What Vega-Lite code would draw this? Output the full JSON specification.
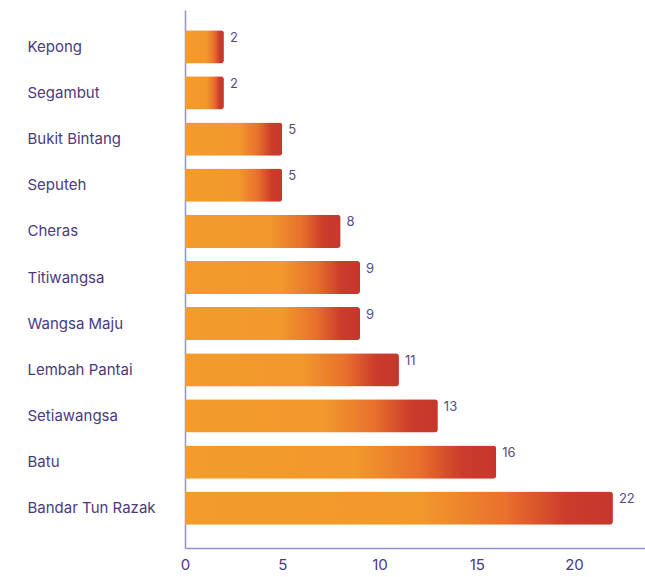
{
  "$schema": "https://vega.github.io/schema/vega-lite/v6.json",
  "autosize": {"type": "none"},
  "padding": {"left": 185, "top": 10, "right": 0, "bottom": 29},
  "width": 460,
  "height": 538,
  "background": "white",
  "config": {
    "view": {"stroke": null},
    "font": "Inter",
    "axis": {"domainColor": "#8f93d0", "domainWidth": 1.5, "grid": false, "ticks": false, "tickSize": 0, "labelColor": "#4b3a7f", "labelFont": "Inter", "labelFontSize": 15, "labelFontWeight": 400, "title": null}
  },
  "data": {
    "values": [
      {"area": "Kepong", "count": 2},
      {"area": "Segambut", "count": 2},
      {"area": "Bukit Bintang", "count": 5},
      {"area": "Seputeh", "count": 5},
      {"area": "Cheras", "count": 8},
      {"area": "Titiwangsa", "count": 9},
      {"area": "Wangsa Maju", "count": 9},
      {"area": "Lembah Pantai", "count": 11},
      {"area": "Setiawangsa", "count": 13},
      {"area": "Batu", "count": 16},
      {"area": "Bandar Tun Razak", "count": 22}
    ]
  },
  "encoding": {
    "y": {"field": "area", "type": "nominal", "sort": null,
      "scale": {"paddingInner": 0.28, "paddingOuter": 0.47},
      "axis": {"labelAlign": "left", "labelPadding": 158, "labelBaseline": "middle", "labelOffset": -1.5}},
    "x": {"field": "count", "type": "quantitative",
      "scale": {"domain": [0, 23.65], "nice": false},
      "axis": {"values": [0, 5, 10, 15, 20], "labelPadding": 9, "labelFlush": false}}
  },
  "layer": [
    {
      "mark": {"type": "bar", "cornerRadiusEnd": 3, "yOffset": -1.5,
        "color": {"gradient": "linear", "x1": 0, "x2": 1, "y1": 0, "y2": 0,
          "stops": [
            {"offset": 0, "color": "#f39b2c"},
            {"offset": 0.55, "color": "#f2982d"},
            {"offset": 0.75, "color": "#e8702c"},
            {"offset": 0.89, "color": "#cc3c2b"},
            {"offset": 1, "color": "#c6362c"}
          ]}}
    },
    {
      "mark": {"type": "text", "align": "left", "baseline": "middle", "dx": 6, "dy": -10.5, "fontSize": 13, "color": "#5a4a8c", "font": "Inter"},
      "encoding": {"text": {"field": "count", "type": "quantitative"}}
    }
  ]
}
